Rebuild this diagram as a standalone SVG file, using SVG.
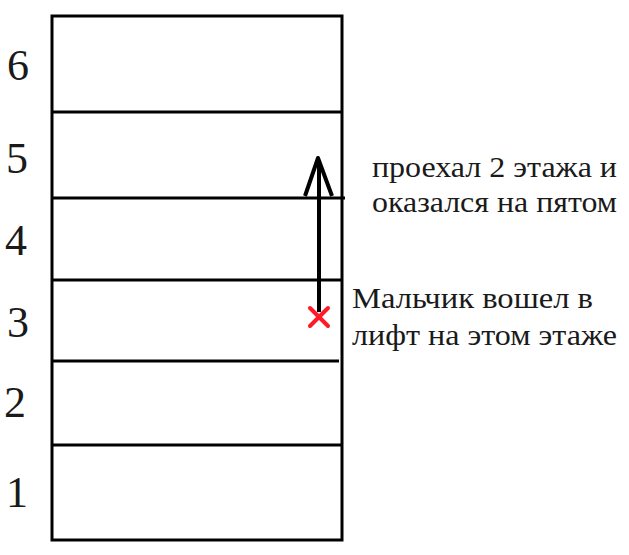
<svg xmlns="http://www.w3.org/2000/svg" width="629" height="555" viewBox="0 0 629 555">
<style>
.ln{stroke:#000;stroke-width:3;fill:none}
.num{font-family:"Liberation Serif","DejaVu Serif",serif;font-size:44px;fill:#1a1a1a;text-anchor:middle}
.lbl{font-family:"Liberation Serif","DejaVu Serif",serif;font-size:29px;fill:#1a1a1a}
</style>
<rect width="629" height="555" fill="#fff"/>
<g id="building">
<rect class="ln" x="52" y="16" width="290" height="524"/>
<line class="ln" x1="52" y1="112" x2="342" y2="112"/>
<line class="ln" x1="52" y1="198" x2="345" y2="198"/>
<line class="ln" x1="52" y1="280" x2="342" y2="280"/>
<line class="ln" x1="52" y1="361" x2="339" y2="361"/>
<line class="ln" x1="52" y1="445" x2="342" y2="445"/>
</g>
<g id="numbers">
<text class="num" x="18" y="80">6</text>
<text class="num" x="17" y="173">5</text>
<text class="num" x="16" y="255">4</text>
<text class="num" x="18" y="337">3</text>
<text class="num" x="15" y="417">2</text>
<text class="num" x="17" y="507">1</text>
</g>
<g id="connectors">
<line x1="319" y1="160" x2="319" y2="312" stroke="#000" stroke-width="4"/>
<polyline points="305,196 318,158 332,196" stroke="#000" stroke-width="4" fill="none" stroke-linejoin="round"/>
</g>
<g id="start-mark">
<line x1="310" y1="308" x2="328" y2="326" stroke="#ff1a2a" stroke-width="4" stroke-linecap="round"/>
<line x1="328" y1="308" x2="310" y2="326" stroke="#ff1a2a" stroke-width="4" stroke-linecap="round"/>
</g>
<g id="label-top">
<text class="lbl" x="372" y="177" textLength="245" lengthAdjust="spacingAndGlyphs">проехал 2 этажа и</text>
<text class="lbl" x="372" y="212" textLength="245" lengthAdjust="spacingAndGlyphs">оказался на пятом</text>
</g>
<g id="label-bottom">
<text class="lbl" x="352" y="308" textLength="241" lengthAdjust="spacingAndGlyphs">Мальчик вошел в</text>
<text class="lbl" x="352" y="345" textLength="265" lengthAdjust="spacingAndGlyphs">лифт на этом этаже</text>
</g>
</svg>
